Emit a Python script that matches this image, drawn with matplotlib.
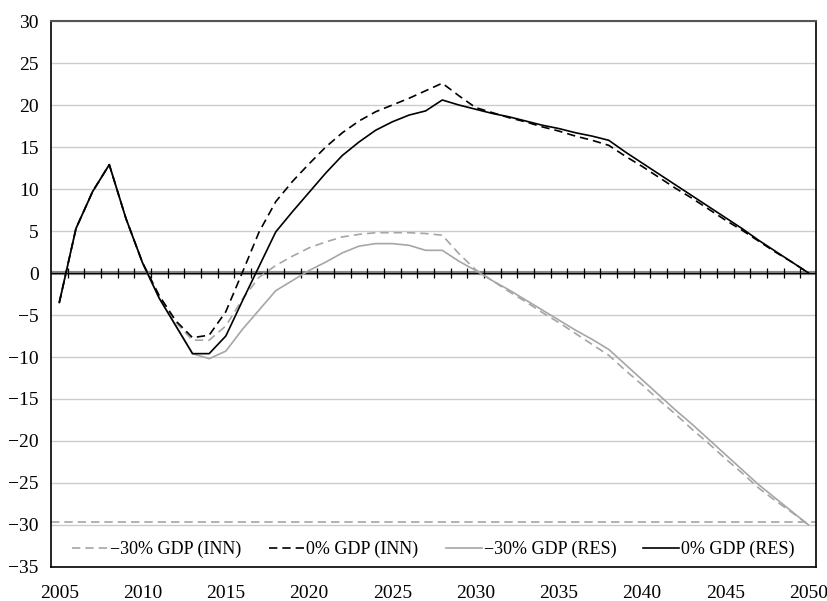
import numpy as np
import matplotlib
matplotlib.use('Agg')
import matplotlib.pyplot as plt

plt.rcParams['font.family'] = ['Liberation Serif', 'DejaVu Serif']

years = list(range(2005, 2051))

# -30% GDP (INN)
inn_30 = [-3.5, 5.3, 9.7, 12.9, 6.5, 1.2, -2.7, -5.9, -8.0, -8.0,
          -6.3, -3.1, -0.5, 0.9, 2.0, 3.0, 3.7, 4.3, 4.6, 4.8,
          4.8, 4.8, 4.7, 4.5, 2.3, 0.4, -0.9, -2.2, -3.4, -4.7,
          -5.9, -7.2, -8.5, -9.8, -11.6, -13.3, -15.1, -16.8, -18.6, -20.3,
          -22.1, -23.8, -25.6, -27.1, -28.5, -30.0]

# 0% GDP (INN)
inn_0 = [-3.5, 5.3, 9.7, 12.9, 6.5, 1.2, -2.7, -5.7, -7.7, -7.4,
         -4.6, 0.1, 4.9, 8.5, 10.9, 13.0, 15.0, 16.7, 18.1, 19.2,
         20.0, 20.8, 21.7, 22.6, 21.1, 19.7, 19.1, 18.5, 18.0, 17.4,
         16.9, 16.3, 15.8, 15.2, 13.9, 12.7, 11.4, 10.1, 8.9, 7.6,
         6.3, 5.1, 3.8, 2.5, 1.3, 0.0]

# -30% GDP (RES)
res_30 = [-3.5, 5.3, 9.7, 12.9, 6.5, 1.2, -3.0, -6.3, -9.6, -10.2,
          -9.3, -6.7, -4.4, -2.1, -0.9, 0.3, 1.3, 2.4, 3.2, 3.5,
          3.5, 3.3, 2.7, 2.7, 1.4, 0.3, -0.9, -2.0, -3.2, -4.4,
          -5.6, -6.8, -7.9, -9.1, -10.9, -12.7, -14.5, -16.3, -18.0, -19.8,
          -21.6, -23.4, -25.2, -26.8, -28.4, -30.0]

# 0% GDP (RES)
res_0 = [-3.5, 5.3, 9.7, 12.9, 6.5, 1.2, -3.0, -6.3, -9.6, -9.6,
         -7.5, -3.3, 0.8, 4.9, 7.3, 9.6, 11.9, 14.0, 15.6, 17.0,
         18.0, 18.8, 19.3, 20.6, 20.0, 19.5, 19.0, 18.6, 18.1, 17.6,
         17.2, 16.7, 16.3, 15.8, 14.4, 13.1, 11.8, 10.5, 9.2, 7.9,
         6.6, 5.3, 3.9, 2.6, 1.3, 0.0]

gray = '#a6a6a6'

fig = plt.figure(figsize=(8.28, 6.01), dpi=100)
ax = fig.add_axes([0.0616, 0.0566, 0.924, 0.9084])

# horizontal grid
for v in range(-35, 31, 5):
    if v != 0:
        ax.axhline(v, color='#cccccc', lw=1.0, zorder=1)

# odd dashed line near the legend
ax.axhline(-29.6, color=gray, lw=1.2, ls=(0, (5, 3)), zorder=1)

# zero axis with category ticks
ax.axhline(0, color='#888888', lw=3.0, zorder=2)
ax.axhline(0, color='black', lw=0.8, zorder=2)
ax.vlines(np.arange(2005.5, 2050, 1), -0.6, 0.6, color='black', lw=0.9, zorder=2)

ax.plot(years, inn_30, color=gray, lw=1.2, ls=(0, (5, 3)), label='\u221230% GDP (INN)', zorder=3)
ax.plot(years, inn_0, color='black', lw=1.2, ls=(0, (5, 3)), label='0% GDP (INN)', zorder=4)
ax.plot(years, res_30, color=gray, lw=1.2, label='\u221230% GDP (RES)', zorder=3)
ax.plot(years, res_0, color='black', lw=1.2, label='0% GDP (RES)', zorder=4)

ax.set_xlim(2004.5, 2050.45)
ax.set_ylim(-35, 30)
ax.set_yticks(range(-35, 31, 5))
ax.set_xticks(range(2005, 2051, 5))
ax.tick_params(axis='both', length=0, labelsize=14)
ax.tick_params(axis='x', pad=13)
ax.tick_params(axis='y', pad=9)

for s in ['left', 'right', 'bottom']:
    ax.spines[s].set_color('black')
    ax.spines[s].set_linewidth(1.2)
ax.spines['top'].set_color('#555555')
ax.spines['top'].set_linewidth(1.5)

ax.legend(loc='lower center', bbox_to_anchor=(0.5, -0.014), ncol=4, frameon=False,
          fontsize=13, handlelength=2.0, columnspacing=1.5, handletextpad=0.1)

fig.savefig('out.png', dpi=100)
